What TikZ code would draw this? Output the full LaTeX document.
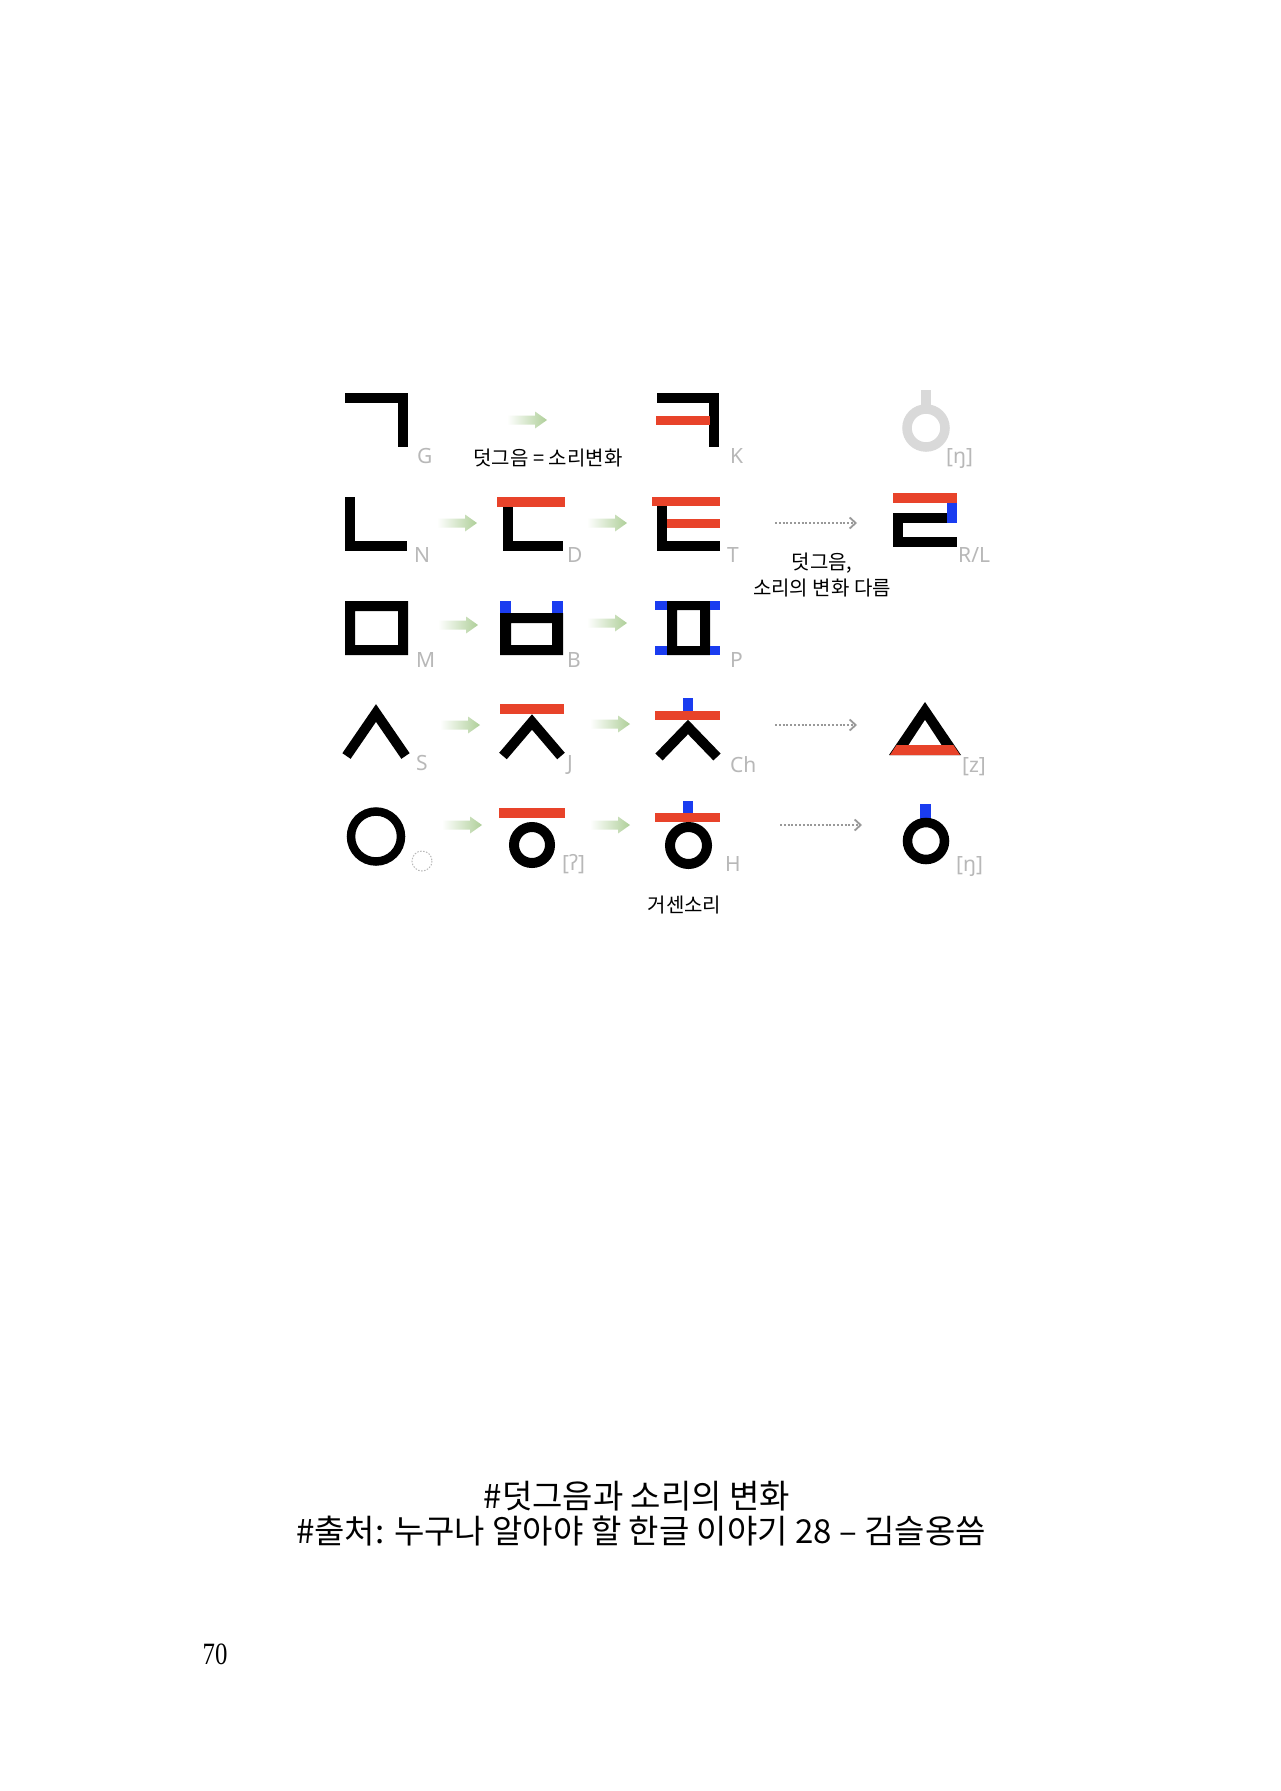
\documentclass[tikz,border=0pt]{standalone}
\usepackage{fontspec}
\setmainfont{Liberation Serif}
\newfontfamily\kr{Noto Sans CJK KR}
\newfontfamily\krn{Noto Sans CJK KR}
\newfontfamily\labf{Noto Sans}
\newfontfamily\pnf[FakeStretch=0.8]{Liberation Serif}
\usetikzlibrary{arrows.meta}
\definecolor{hred}{HTML}{E8432A}
\definecolor{hblue}{HTML}{1A3CF0}
\definecolor{lgray}{HTML}{D9D9D9}
\definecolor{labc}{HTML}{B8B8B8}
\definecolor{agreen}{HTML}{AFCF99}
\definecolor{dgray}{HTML}{999999}
\tikzset{
  lbl/.style={anchor=base west, inner sep=0pt, text=labc, font=\labf\fontsize{21}{21}\selectfont},
  ann/.style={inner sep=0pt, align=center, font=\kr\fontsize{20}{26}\selectfont},
  foot/.style={inner sep=0pt, font=\krn\fontsize{33}{35}\selectfont},
  stroke/.style={line width=10pt, line join=miter, line cap=butt},
  ring/.style={line width=10pt},
  darrow/.style={draw=dgray, line width=2pt, dash pattern=on 2pt off 1.8pt, -{Straight Barb[length=6pt,width=11pt,line width=1.8pt]}},
  pics/garrow/.style={code={
    \shade[left color=white, right color=agreen] (-40,-4.5) -- (-12,-4.5) -- (-12,-8.5) -- (0,0) -- (-12,8.5) -- (-12,4.5) -- (-40,4.5) -- cycle;}}
}
\begin{document}
\begin{tikzpicture}[x=1pt,y=-1pt]
\useasboundingbox (0,0) rectangle (1280,1791);
\fill[white] (0,0) rectangle (1280,1791);

% ---- row 1 : G -> K , gray ng
\fill (345,393) rectangle (408,403); \fill (398,393) rectangle (408,447);
\node[lbl] (lG) at (417,463) {G};
\pic at (547,420) {garrow};
\node[ann] (t1) at (548,458) {덧그음 = 소리변화};
\fill (657,393) rectangle (719,403); \fill (709,393) rectangle (719,447);
\fill[hred] (656,416) rectangle (710,425);
\node[lbl] (lK) at (730,463) {K};
\fill[lgray] (920.5,390) rectangle (930.5,410);
\draw[ring, lgray, line width=9.5pt] (926,428) circle (19);
\node[lbl] (lng1) at (946,463) {[ŋ]};

% ---- row 2 : N -> D -> T ... R/L
\fill (345,497) rectangle (355,551); \fill (345,541) rectangle (407,551);
\node[lbl] (lN) at (414,562) {N};
\pic at (477,523) {garrow};
\fill[hred] (497,497) rectangle (565,507);
\fill (503,507) rectangle (513,551); \fill (503,541) rectangle (563,551);
\node[lbl] (lD) at (567,562) {D};
\pic at (627,523) {garrow};
\fill[hred] (652,497) rectangle (720,506);
\fill (657,506) rectangle (667,551); \fill (657,541) rectangle (720,551);
\fill[hred] (667,519) rectangle (720,528);
\node[lbl] (lT) at (727,562) {T};
\coordinate (d1s) at (775,523); \coordinate (d1e) at (857,523);
\draw[darrow] (d1s) -- (d1e);
\fill[hred] (893,493) rectangle (957,503);
\fill[hblue] (947,503) rectangle (957,523);
\fill (893,513) rectangle (947,523);
\fill (893,513) rectangle (903,547);
\fill (893,537) rectangle (957,547);
\node[lbl] (lRL) at (958,562) {R/L};
\node[ann] (t2) at (822,575) {덧그음,\\소리의 변화 다름};

% ---- row 3 : M -> B -> P
\fill[even odd rule] (345,601) rectangle (408,655) (355,611) rectangle (398,645);
\node[lbl] (lM) at (416,667) {M};
\pic at (478,625) {garrow};
\fill[even odd rule] (500,613) rectangle (563,655) (511,623) rectangle (552,645);
\fill[hblue] (500,601) rectangle (511,613);
\fill[hblue] (552,601) rectangle (563,613);
\node[lbl] (lB) at (567,667) {B};
\pic at (627,623) {garrow};
\fill[even odd rule] (667,601) rectangle (710,655) (677,610) rectangle (700,646);
\fill[hblue] (655,601) rectangle (667,610);
\fill[hblue] (710,601) rectangle (720,610);
\fill[hblue] (655,646) rectangle (667,655);
\fill[hblue] (710,646) rectangle (720,655);
\node[lbl] (lP) at (730,667) {P};

% ---- row 4 : S -> J -> Ch ... z
\draw[stroke] (346.5,756) -- (376,713) -- (405.5,756);
\node[lbl] (lS) at (416,770) {S};
\pic at (480,725) {garrow};
\draw[stroke] (503,756) -- (532,722) -- (561,756);
\fill[hred] (500,704) rectangle (564,714);
\node[lbl] (lJ) at (567,770) {J};
\pic at (630,724) {garrow};
\draw[stroke] (659,757) -- (688,727) -- (717,757);
\fill[hblue] (683,698) rectangle (693,712);
\fill[hred] (655,711) rectangle (720,720);
\node[lbl] (lCh) at (730,772) {Ch};
\coordinate (d2s) at (775,725); \coordinate (d2e) at (857,725);
\draw[darrow] (d2s) -- (d2e);
\fill (925,702) -- (889,755) -- (961,755) -- cycle;
\fill[white] (925,720) -- (908.6,745) -- (941.4,745) -- cycle;
\fill[hred] (890,755) -- (960,755) -- (953.4,745) -- (896.6,745) -- cycle;
\node[lbl] (lz) at (962,772) {[z]};

% ---- row 5 : ieung -> yeorinhieut -> H ... ng
\draw[ring, line width=8.5pt] (376,836.5) circle (25);
\draw[labc, line width=1pt, dash pattern=on 1.5pt off 1.5pt] (422,861) circle (10);
\pic at (482,825) {garrow};
\fill[hred] (499,808) rectangle (565,818);
\draw[ring] (532,845) circle (18);
\node[lbl] (lq) at (562,870) {[ʔ]};
\pic at (630,825) {garrow};
\fill[hblue] (683,801) rectangle (693,813);
\fill[hred] (655,813) rectangle (720,822);
\draw[ring] (688.5,845.5) circle (18.5);
\node[lbl] (lH) at (725,871) {H};
\node[ann] (t3) at (684.5,905) {거센소리};
\coordinate (d3s) at (780,825); \coordinate (d3e) at (862,825);
\draw[darrow] (d3s) -- (d3e);
\fill[hblue] (919.5,804) rectangle (930.5,823);
\draw[ring, line width=9.5pt] (926,841) circle (18.5);
\node[lbl] (lng2) at (956,871) {[ŋ]};

% ---- footer
\node[foot] (f1) at (637,1496) {\#덧그음과 소리의 변화};
\node[foot] (f2) at (641,1531) {\#출처: 누구나 알아야 할 한글 이야기 28 – 김슬옹씀};
\node[inner sep=0pt, anchor=base, font=\pnf\fontsize{31}{31}\selectfont] (pg) at (215,1664) {70};
\end{tikzpicture}
\end{document}
